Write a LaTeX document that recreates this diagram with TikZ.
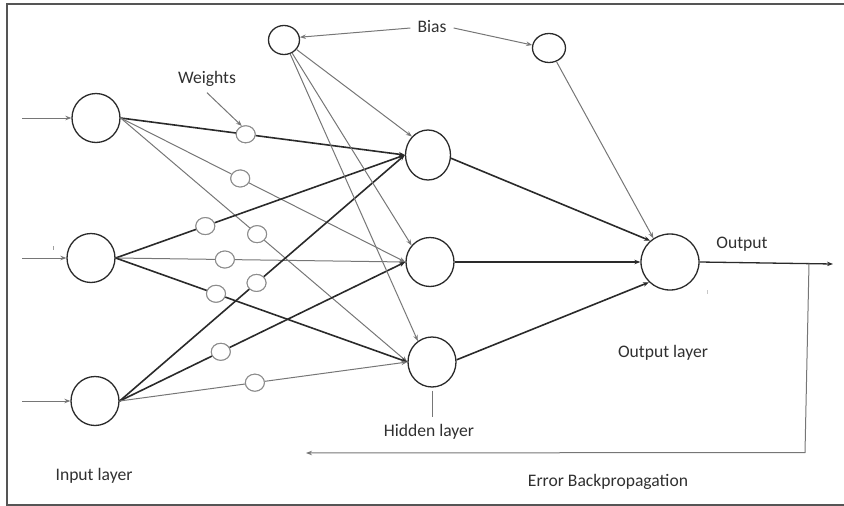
\documentclass[tikz,border=0pt]{standalone}
\usepackage{fontspec}
\setmainfont{Carlito}
\usetikzlibrary{arrows.meta,shapes.geometric}
\definecolor{ink}{HTML}{2A2A2A}
\definecolor{wire}{HTML}{767676}
\definecolor{framec}{HTML}{555555}
\definecolor{wring}{HTML}{8C8C8C}
\definecolor{txt}{HTML}{303030}
\begin{document}
\begin{tikzpicture}[x=1pt,y=-1pt,
  neuron/.style={ellipse,draw=ink,line width=1.3pt,fill=white,inner sep=0pt},
  weight/.style={ellipse,draw=wring,line width=1pt,fill=white,minimum width=19pt,minimum height=17pt,inner sep=0pt},
  strong/.style={draw=ink,line width=1.6pt},
  faint/.style={draw=wire,line width=1pt},
  tip/.style={-{Stealth[length=6pt,width=4.5pt]}},
  lbl/.style={text=txt,font=\fontsize{17.6}{20}\selectfont,text height=12pt,text depth=4pt,inner sep=0pt},
]
\useasboundingbox (0,0) rectangle (844,506);
% frame
\draw[framec,line width=2.5pt] (844,4) -- (7,4) -- (7,505) -- (844,505);

% input layer
\node[neuron,minimum width=48pt,minimum height=49pt] (i1) at (96,118) {};
\node[neuron,minimum width=48pt,minimum height=49pt] (i2) at (91,258) {};
\node[neuron,minimum width=48pt,minimum height=49pt] (i3) at (95,401) {};
% hidden layer
\node[neuron,minimum width=45pt,minimum height=50pt] (h1) at (428,155) {};
\node[neuron,minimum width=48pt,minimum height=49pt] (h2) at (430,262) {};
\node[neuron,minimum width=48pt,minimum height=50pt] (h3) at (432,362) {};
% output
\node[neuron,minimum width=58pt,minimum height=56pt] (o) at (670,262) {};
% bias units
\node[neuron,minimum width=31pt,minimum height=29pt] (b1) at (284,40) {};
\node[neuron,minimum width=33pt,minimum height=29pt] (b2) at (549,48) {};

% input arrows
\coordinate (in1) at (22,118);
\coordinate (in2) at (22,258);
\coordinate (in3) at (22,401);
\draw[faint,tip] (in1) -- (i1);
\draw[faint,tip] (in2) -- (i2);
\draw[faint,tip] (in3) -- (i3);

% weight markers on the input-to-hidden links
\path (i1.east) -- (h1.west) node[weight,pos=0.44]  (w11) {};
\path (i1.east) -- (h2.west) node[weight,pos=0.42]  (w12) {};
\path (i1.east) -- (h3.west) node[weight,pos=0.476] (w13) {};
\path (i2.east) -- (h1.west) node[weight,pos=0.31]  (w21) {};
\path (i2.east) -- (h2.west) node[weight,pos=0.377] (w22) {};
\path (i2.east) -- (h3.west) node[weight,pos=0.344] (w23) {};
\path (i3.east) -- (h1.west) node[weight,pos=0.48]  (w31) {};
\path (i3.east) -- (h2.west) node[weight,pos=0.354] (w32) {};
\path (i3.east) -- (h3.west) node[weight,pos=0.47]  (w33) {};

\draw[strong] (i1.east) -- (w11); \draw[strong,tip] (w11) -- (h1.west);
\draw[faint]  (i1.east) -- (w12); \draw[faint,tip]  (w12) -- (h2.west);
\draw[faint]  (i1.east) -- (w13); \draw[faint,tip]  (w13) -- (h3.west);
\draw[strong] (i2.east) -- (w21); \draw[strong,tip] (w21) -- (h1.west);
\draw[faint]  (i2.east) -- (w22); \draw[faint,tip]  (w22) -- (h2.west);
\draw[strong] (i2.east) -- (w23); \draw[strong,tip] (w23) -- (h3.west);
\draw[strong] (i3.east) -- (w31); \draw[strong,tip] (w31) -- (h1.west);
\draw[strong] (i3.east) -- (w32); \draw[strong,tip] (w32) -- (h2.west);
\draw[faint]  (i3.east) -- (w33); \draw[faint,tip]  (w33) -- (h3.west);

% redraw the weight markers above the links
\foreach \w in {w11,w12,w13,w21,w22,w23,w31,w32,w33}
  \node[weight] at (\w) {};

% bias links
\draw[faint,tip] (b1) -- (h1.131);
\draw[faint,tip] (b1) -- (h2.138);
\draw[faint,tip] (b1) -- (h3.124);
\draw[faint,tip] (b2) -- (o.125);

% hidden to output
\draw[strong,tip] (h1.-8) -- (o.133);
\draw[strong,tip] (h2.east) -- (o.west);
\draw[strong,tip] (h3.5) -- (o.224);

% output and error feedback
\coordinate (outend) at (833,264);
\coordinate (fbtop) at (809,263.5);
\coordinate (fbturn) at (805,452.5);
\coordinate (fbend) at (306,453);
\draw[strong,line width=1.3pt,tip] (o.east) -- (outend);
\draw[faint,tip] (fbtop) -- (fbturn) -- (fbend);

% labels
\node[lbl,inner sep=5pt] (wlab) at (207,79.5) {Weights};
\draw[faint,tip] (wlab.south) -- (w11.115);
\node[lbl,inner xsep=7pt] (blab) at (432,28) {Bias};
\draw[faint,tip] (blab.west) -- (b1.10);
\draw[faint,tip] (blab.east) -- (b2.170);
\node[lbl,inner ysep=7pt] (hlab) at (429,432.5) {Hidden layer};
\draw[faint] ([yshift=-3pt]h3.south) -- (h3.south |- hlab.north);
\node[lbl] (ilab) at (94,476.5) {Input layer};
\node[lbl] (olab) at (742,244.5) {Output};
\node[lbl] (ollab) at (663,353.5) {Output layer};
\node[lbl] (elab) at (608,482.5) {Error Backpropagation};

% small stray ticks
\draw[wire!70,line width=0.8pt] (53,246) -- (53,250);
\draw[wire!40,line width=0.8pt] (707,290) -- (707,294);
\end{tikzpicture}
\end{document}
